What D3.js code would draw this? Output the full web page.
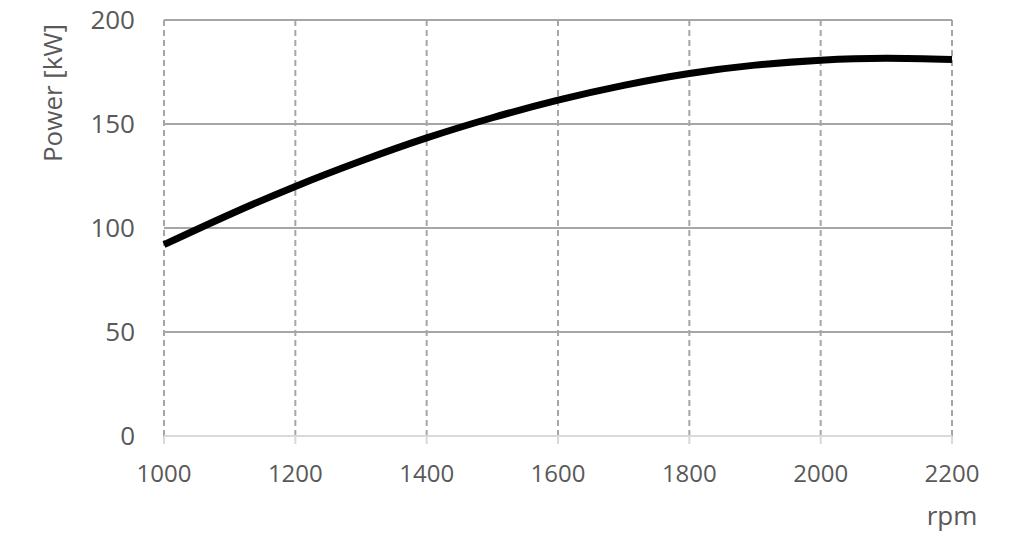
<!DOCTYPE html>
<html><head><meta charset="utf-8">
<script src="https://cdn.jsdelivr.net/npm/d3@7"></script>
<style>body{margin:0;background:#fff}svg{display:block}text{font-family:"Open Sans","Noto Sans",sans-serif;fill:#595959}</style>
</head><body><svg id="c" width="1020" height="540"></svg>
<script>
const rpm   = [1000,1100,1200,1300,1400,1500,1600,1700,1800,1900,2000,2100,2200];
const power = [92,106.5,120,132.2,143.3,153,161.5,168.6,174.3,178.3,180.7,181.6,181];
const xTicks = [1000,1200,1400,1600,1800,2000,2200];
const yTicks = [0,50,100,150,200];

const svg = d3.select("#c");
const x = d3.scaleLinear().domain([1000,2200]).range([164,952]);
const y = d3.scaleLinear().domain([0,200]).range([436,20]);

// horizontal gridlines
svg.append("g").selectAll("line").data(yTicks.filter(d=>d>0)).join("line")
  .attr("x1",164).attr("x2",952).attr("y1",d=>y(d)).attr("y2",d=>y(d))
  .attr("stroke","#a6a6a6").attr("stroke-width",2);
// vertical dashed gridlines
svg.append("g").selectAll("line").data(xTicks).join("line")
  .attr("x1",d=>x(d)).attr("x2",d=>x(d)).attr("y1",20).attr("y2",436)
  .attr("stroke","#a6a6a6").attr("stroke-width",2).attr("stroke-dasharray","6,4");
// x axis
svg.append("line").attr("x1",164).attr("x2",952).attr("y1",436).attr("y2",436)
  .attr("stroke","#d9d9d9").attr("stroke-width",2);
svg.append("g").selectAll("line").data(xTicks).join("line")
  .attr("x1",d=>x(d)).attr("x2",d=>x(d)).attr("y1",436).attr("y2",444)
  .attr("stroke","#d9d9d9").attr("stroke-width",2);

// labels
svg.append("g").selectAll("text").data(yTicks).join("text")
  .attr("x",135).attr("y",d=>y(d)+9).attr("text-anchor","end")
  .attr("font-size",26).text(d=>d);
svg.append("g").selectAll("text").data(xTicks).join("text")
  .attr("x",d=>x(d)).attr("y",482).attr("text-anchor","middle")
  .attr("font-size",24).text(d=>d);
svg.append("text").attr("x",952).attr("y",525).attr("text-anchor","middle")
  .attr("font-size",26).text("rpm");
svg.append("text").attr("transform","translate(62,93) rotate(-90)")
  .attr("text-anchor","middle").attr("font-size",26).text("Power [kW]");

// curve
svg.append("path").datum(rpm.map((r,i)=>[r,power[i]]))
  .attr("fill","none").attr("stroke","#000").attr("stroke-width",7)
  .attr("d",d3.line().x(d=>x(d[0])).y(d=>y(d[1])).curve(d3.curveNatural));
</script></body></html>
